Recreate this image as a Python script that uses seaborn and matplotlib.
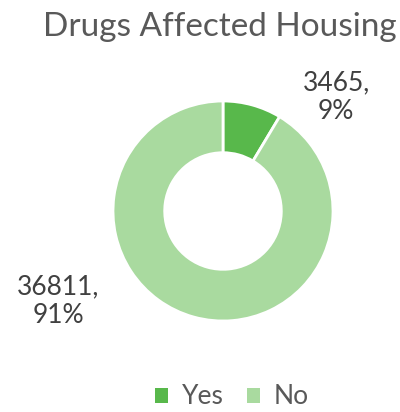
import matplotlib
matplotlib.use("Agg")
import matplotlib.pyplot as plt
import seaborn as sns
from matplotlib.patches import Patch

categories = ["Yes", "No"]
values = [3465, 36811]
percents = ["9%", "91%"]
colors = ["#58b84b", "#a9da9f"]

sns.set_style("white")
plt.rcParams['font.family'] = ['Lato', 'DejaVu Sans']

fig = plt.figure(figsize=(4.0, 4.12), dpi=100)
ax = fig.add_axes([(223 - 110) / 400, (201 - 110) / 412, 220 / 400, 220 / 412])
wedges, _ = ax.pie(values, colors=colors, startangle=90, counterclock=False,
                   radius=1.0, wedgeprops=dict(width=0.47, edgecolor="white", linewidth=2))
ax.set_xlim(-1, 1)
ax.set_ylim(-1, 1)
ax.set_aspect("equal")
ax.axis("off")

txtc = "#404040"
fig.text(336 / 400, 1 - 97 / 412, f"{values[0]},\n{percents[0]}", ha="center", va="center",
         fontsize=19, color=txtc, linespacing=1.2)
fig.text(58 / 400, 1 - 301 / 412, f"{values[1]},\n{percents[1]}", ha="center", va="center",
         fontsize=19, color=txtc, linespacing=1.2)

fig.text(220 / 400, 1 - 27 / 412, "Drugs Affected Housing", ha="center", va="center",
         fontsize=24, color="#595959")

handles = [Patch(facecolor=c, edgecolor="none") for c in colors]
fig.legend(handles, categories, loc="center", bbox_to_anchor=(232 / 400, 1 - 397 / 412),
           ncol=2, frameon=False, fontsize=19, handlelength=0.5, handleheight=0.5,
           handletextpad=0.5, columnspacing=0.9, labelcolor="#595959")

fig.savefig("out.png", dpi=100)
